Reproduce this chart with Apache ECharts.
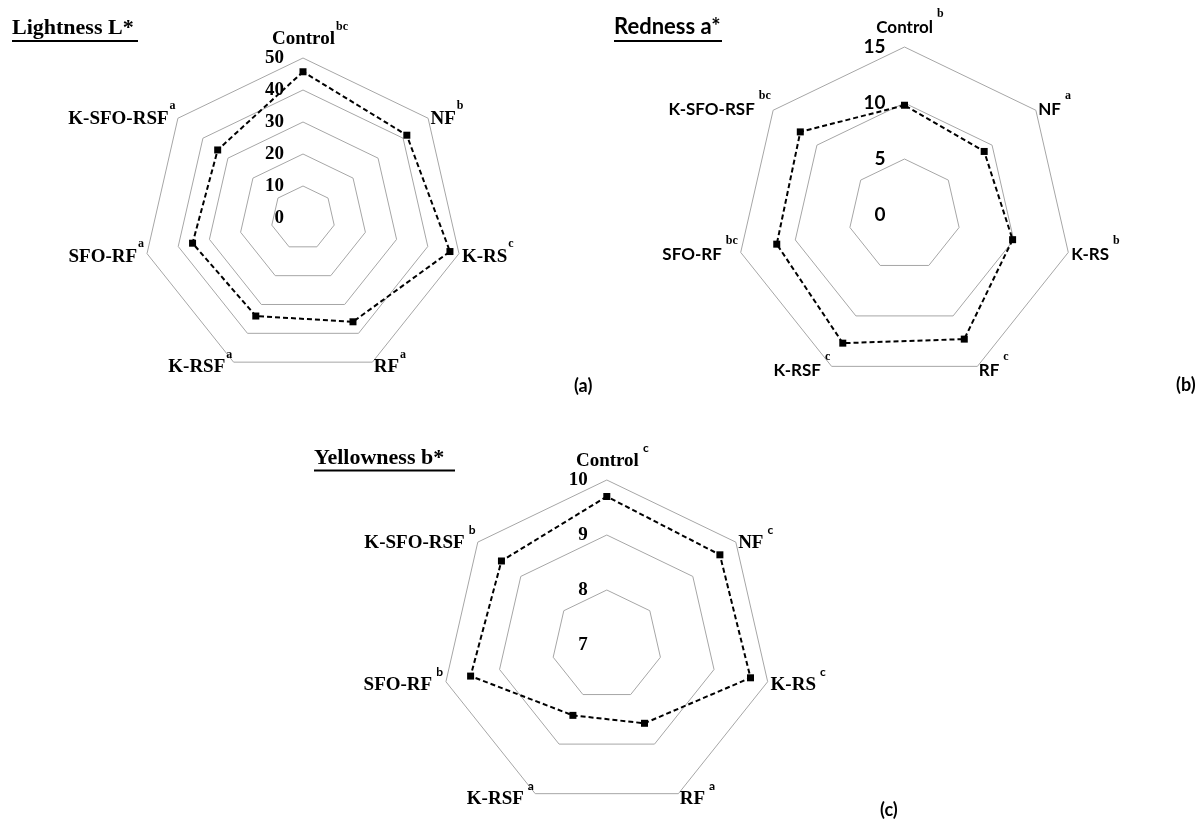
<!DOCTYPE html>
<html>
<head>
<meta charset="utf-8">
<title>Colour parameters</title>
<script src="https://cdn.jsdelivr.net/npm/echarts@6/dist/echarts.min.js"></script>
<style>
  html, body { margin: 0; padding: 0; background: #fff; }
  #chart { width: 1201px; height: 822px; }
</style>
</head>
<body>
<div id="chart"></div>
<script>
// treatments, clockwise from the top axis
const treatments = ['Control', 'NF', 'K-RS', 'RF', 'K-RSF', 'SFO-RF', 'K-SFO-RSF'];

// (a) Lightness L*
const lightness = [45.7, 41.5, 47.1, 36.0, 34.0, 35.4, 34.1];
const lightnessLetters = ['bc', 'b', 'c', 'a', 'a', 'a', 'a'];
const lightnessTicks = [0, 10, 20, 30, 40, 50];

// (b) Redness a*
const redness = [9.8, 9.1, 9.9, 12.3, 12.7, 11.7, 11.9];
const rednessLetters = ['b', 'a', 'b', 'c', 'c', 'bc', 'bc'];
const rednessTicks = [0, 5, 10, 15];

// (c) Yellowness b*
const yellowness = [9.70, 9.63, 9.68, 8.58, 8.42, 9.54, 9.45];
const yellownessLetters = ['c', 'c', 'c', 'a', 'a', 'b', 'b'];
const yellownessTicks = [7, 8, 9, 10];

const SERIF = 'Liberation Serif';
const SANS = 'Lato';

// echarts walks the indicators counter-clockwise, so feed them in reverse after the first
const order = [0, 6, 5, 4, 3, 2, 1];

function makeRadar(ticks, letters, center, radius, font, supFont, nameSize, supGap, lift) {
  const indicator = order.map((i, k) => {
    const ind = { name: treatments[i], min: ticks[0], max: ticks[ticks.length - 1] };
    if (k === 0) ind.axisLabel = { show: true };
    return ind;
  });
  return {
    center: center,
    radius: radius,
    startAngle: 90,
    splitNumber: ticks.length - 1,
    shape: 'polygon',
    indicator: indicator,
    axisLine: { show: false },
    axisTick: { show: false },
    splitArea: { show: false },
    splitLine: { lineStyle: { color: '#a6a6a6', width: 1 } },
    axisLabel: {
      show: false,
      margin: 19,
      color: '#000',
      fontFamily: font,
      fontWeight: 'bold',
      fontSize: 19
    },
    axisNameGap: 3,
    axisName: {
      color: '#000',
      padding: [0, 0, lift, 0],
      formatter: function (name) {
        const sup = letters[treatments.indexOf(name)];
        const pad = name === 'Control' ? '{p' + sup.length + '| }' : '';
        return pad + '{n|' + name + '}{s|' + sup + '}';
      },
      rich: {
        n: { fontFamily: font, fontWeight: 'bold', fontSize: nameSize, lineHeight: 28, verticalAlign: 'bottom', color: '#000' },
        s: { fontFamily: supFont, fontWeight: 'bold', fontSize: 12, verticalAlign: 'top', padding: [0, 0, 0, supGap], color: '#000' },
        p1: { width: 7 + supGap },
        p2: { width: 13 + supGap }
      }
    }
  };
}

function makeSeries(values, radarIndex) {
  return {
    type: 'radar',
    radarIndex: radarIndex,
    symbol: 'rect',
    symbolSize: 7,
    itemStyle: { color: '#000' },
    lineStyle: { color: '#000', width: 2, type: [5, 3] },
    data: [{ value: order.map(i => values[i]) }]
  };
}

function title(text, x, y, font, size, lineEnd, lineY) {
  return [
    {
      type: 'text', left: x, top: y,
      style: { text: text, fill: '#000', font: 'bold ' + size + 'px "' + font + '"' }
    },
    {
      type: 'line',
      shape: { x1: x, y1: lineY, x2: lineEnd, y2: lineY },
      style: { stroke: '#000', lineWidth: 2 }
    }
  ];
}

function panelTag(text, x, y) {
  return {
    type: 'text', left: x, top: y,
    style: { text: text, fill: '#000', font: 'bold 18px "' + SANS + '"' }
  };
}

const chart = echarts.init(document.getElementById('chart'));
chart.setOption({
  animation: false,
  radar: [
    makeRadar(lightnessTicks, lightnessLetters, [303, 218], 160, SERIF, SERIF, 19, 1, 4),
    makeRadar(rednessTicks, rednessLetters, [904.5, 215], 168, SANS, SERIF, 17, 4, 8),
    makeRadar(yellownessTicks, yellownessLetters, [606.8, 645], 165, SERIF, SANS, 19, 4, 4)
  ],
  series: [
    makeSeries(lightness, 0),
    makeSeries(redness, 1),
    makeSeries(yellowness, 2)
  ],
  graphic: [].concat(
    title('Lightness L*', 12, 17, SERIF, 22, 138, 41),
    title('Redness a*', 614, 16, SANS, 22, 722, 41),
    title('Yellowness b*', 314, 447, SERIF, 22, 455, 470.5),
    [panelTag('(a)', 574, 377), panelTag('(b)', 1176, 376), panelTag('(c)', 880, 801)]
  )
});
</script>
</body>
</html>
